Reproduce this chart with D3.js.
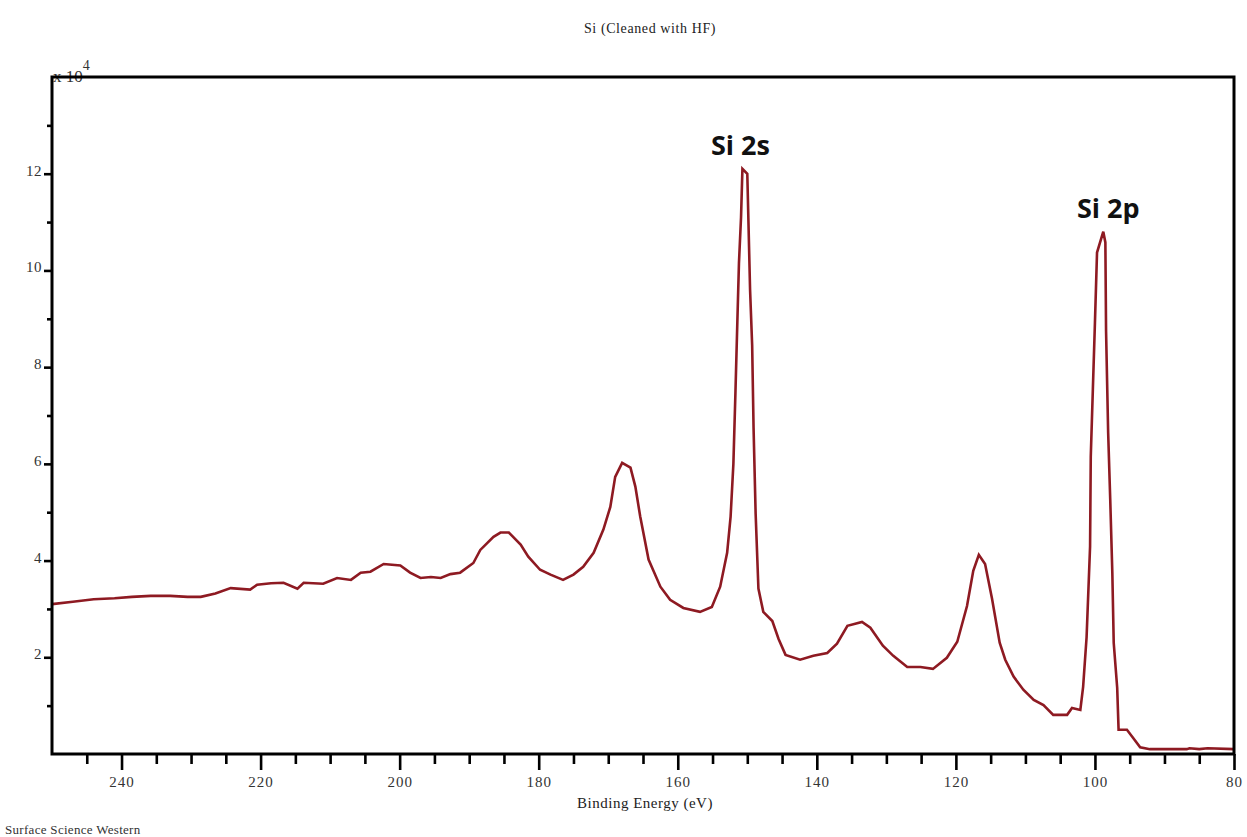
<!DOCTYPE html>
<html>
<head>
<meta charset="utf-8">
<script src="https://cdn.jsdelivr.net/npm/d3@7"></script>
<style>
  html, body { margin: 0; padding: 0; background: #fff; }
  svg { display: block; }
</style>
</head>
<body>
<svg id="chart" width="1247" height="837"></svg>
<script>
// Binding energy (eV) and counts (x 10^4)
const energy = [250.0,247.0,244.0,241.0,238.5,235.8,233.0,230.5,228.6,226.5,224.3,221.5,220.5,218.5,216.7,214.7,213.8,211.0,209.0,207.0,205.6,204.2,202.3,199.9,198.5,197.0,195.5,194.1,192.7,191.3,189.4,188.4,186.5,185.5,184.3,182.6,181.5,179.8,178.3,176.5,175.0,173.6,172.1,170.7,169.7,169.0,168.0,166.8,166.1,165.4,164.2,162.5,161.1,159.2,156.8,155.1,153.9,152.9,152.4,152.0,151.7,151.4,151.2,150.9,150.7,150.0,149.8,149.6,149.3,149.1,148.8,148.4,147.7,146.4,145.5,144.5,142.4,140.5,138.5,137.1,135.6,133.5,132.3,130.5,129.0,127.0,125.1,123.3,121.3,119.8,118.4,117.5,116.7,115.8,114.8,113.7,112.9,111.7,110.3,108.8,107.4,106.0,104.0,103.3,102.1,101.7,101.2,100.7,100.6,100.3,100.0,99.7,98.8,98.5,98.4,98.1,97.8,97.5,97.3,96.8,96.6,95.4,94.5,93.5,92.1,86.8,86.4,85.0,83.8,80.0];
const counts = [3.10,3.15,3.20,3.22,3.25,3.27,3.27,3.25,3.25,3.32,3.43,3.40,3.50,3.53,3.54,3.42,3.54,3.52,3.64,3.60,3.75,3.77,3.93,3.90,3.75,3.64,3.66,3.64,3.72,3.75,3.95,4.22,4.49,4.58,4.58,4.33,4.08,3.81,3.71,3.60,3.71,3.87,4.16,4.64,5.11,5.73,6.02,5.92,5.53,4.91,4.02,3.46,3.19,3.02,2.94,3.04,3.46,4.16,4.91,6.00,7.50,9.10,10.15,11.10,12.10,12.00,10.80,9.60,8.45,6.75,4.97,3.42,2.94,2.75,2.38,2.05,1.95,2.03,2.09,2.28,2.65,2.73,2.61,2.24,2.03,1.80,1.80,1.76,1.99,2.32,3.06,3.79,4.12,3.93,3.21,2.30,1.95,1.60,1.33,1.12,1.01,0.81,0.81,0.95,0.91,1.39,2.42,4.29,6.15,7.54,8.92,10.37,10.80,10.58,8.74,6.65,5.26,3.75,2.30,1.37,0.50,0.50,0.33,0.14,0.10,0.10,0.12,0.10,0.12,0.10];

const xMajorTicks = [240,220,200,180,160,140,120,100,80];
const xMinorTicks = [245,235,230,225,215,210,205,195,190,185,175,170,165,155,150,145,135,130,125,115,110,105,95,90,85];
const yMajorTicks = [2,4,6,8,10,12];
const yMinorTicks = [1,3,5,7,9,11,13];

const peakLabels = [
  {text: "Si 2s", energy: 150.7, value: 12.1, dx: -2},
  {text: "Si 2p", energy: 98.8, value: 10.8, dx: 5}
];

const titleText = "Si (Cleaned with HF)";
const xTitle = "Binding Energy (eV)";
const footer = "Surface Science Western";

const svg = d3.select("#chart");
const L = 52, R = 1234, T = 77, B = 754;

const x = d3.scaleLinear().domain([250, 80]).range([L, R]);
const y = d3.scaleLinear().domain([0, 14]).range([B, T]);

const serif = "'Liberation Serif', 'Times New Roman', serif";

// Title
svg.append("text").attr("x", 650).attr("y", 33).attr("text-anchor", "middle")
  .attr("font-family", serif).attr("font-size", 14).attr("letter-spacing", 0.6).attr("fill", "#222")
  .text(titleText);

// Multiplier label (partially behind top axis line)
const mult = svg.append("text").attr("x", 53).attr("y", 82)
  .attr("font-family", serif).attr("font-size", 17).attr("fill", "#333");
mult.append("tspan").text("x 10");
mult.append("tspan").attr("dy", -12).attr("font-size", 14).text("4");

// Line
const line = d3.line().x((d, i) => x(energy[i])).y((d, i) => y(counts[i]));
svg.append("path").datum(counts)
  .attr("d", line)
  .attr("fill", "none")
  .attr("stroke", "#8e1a22")
  .attr("stroke-width", 2.6)
  .attr("stroke-linejoin", "miter");

// Axes
function styleAxis(g) {
  g.select(".domain").remove();
  g.selectAll(".tick line").attr("stroke", "#000").attr("stroke-width", 2.6);
  g.selectAll(".tick text").attr("font-family", serif).attr("fill", "#333");
}

const xMajor = svg.append("g").attr("transform", `translate(0,${B})`)
  .call(d3.axisBottom(x).tickValues(xMajorTicks).tickSize(16).tickPadding(14).tickFormat(d3.format("d")));
styleAxis(xMajor);
xMajor.selectAll(".tick text").attr("font-size", 15).attr("letter-spacing", 1).attr("dy", "0.2em");

const xMinor = svg.append("g").attr("transform", `translate(0,${B})`)
  .call(d3.axisBottom(x).tickValues(xMinorTicks).tickSize(10).tickFormat(""));
styleAxis(xMinor);

const yMajor = svg.append("g").attr("transform", `translate(${L},0)`)
  .call(d3.axisLeft(y).tickValues(yMajorTicks).tickSize(8).tickPadding(2).tickFormat(d3.format("d")));
styleAxis(yMajor);
yMajor.selectAll(".tick text").attr("font-size", 15).attr("letter-spacing", 0.5).attr("dy", "0.1em");

const yMinor = svg.append("g").attr("transform", `translate(${L},0)`)
  .call(d3.axisLeft(y).tickValues(yMinorTicks).tickSize(5).tickFormat(""));
styleAxis(yMinor);

// Frame
svg.append("rect").attr("x", L).attr("y", T).attr("width", R - L).attr("height", B - T)
  .attr("fill", "none").attr("stroke", "#000").attr("stroke-width", 3);

// Axis title
svg.append("text").attr("x", 645).attr("y", 808).attr("text-anchor", "middle")
  .attr("font-family", serif).attr("font-size", 15).attr("letter-spacing", 0.5).attr("fill", "#222")
  .text(xTitle);

// Footer
svg.append("text").attr("x", 5).attr("y", 834)
  .attr("font-family", serif).attr("font-size", 13).attr("letter-spacing", 0.3).attr("fill", "#333")
  .text(footer);

// Peak labels
svg.selectAll(".peak").data(peakLabels).enter().append("text")
  .attr("class", "peak")
  .attr("x", d => x(d.energy) + d.dx)
  .attr("y", d => y(d.value) - 14)
  .attr("text-anchor", "middle")
  .attr("font-family", "'Open Sans', 'Noto Sans', sans-serif")
  .attr("font-weight", "bold")
  .attr("font-size", 27)
  .attr("fill", "#111")
  .text(d => d.text);
</script>
</body>
</html>
